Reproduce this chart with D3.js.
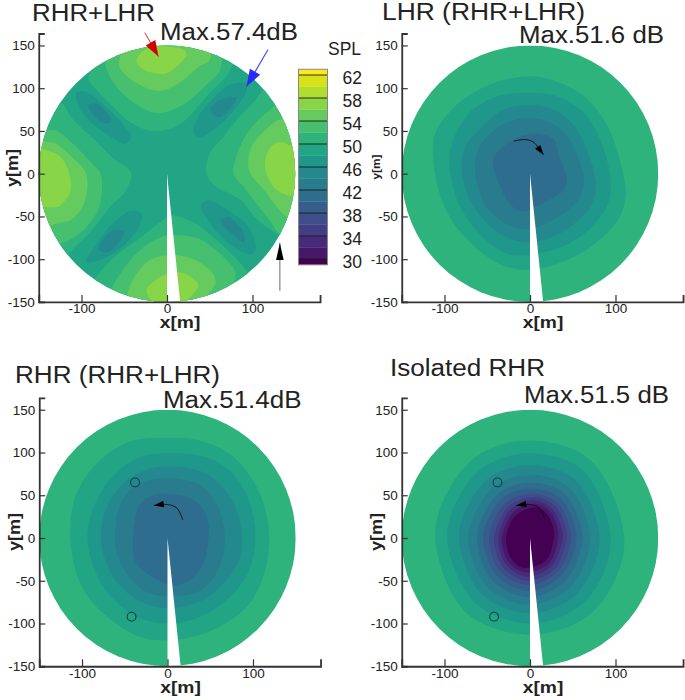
<!DOCTYPE html>
<html>
<head>
<meta charset="utf-8">
<script src="https://cdn.jsdelivr.net/npm/d3@7"></script>
<style>
  body { margin: 0; background: #fff; }
  text { font-family: "Liberation Sans", Arial, sans-serif; fill: #222; }
</style>
</head>
<body>
<svg id="chart" width="685" height="700"></svg>
<script>
// Colour bands: index 0 is below 30 dB, index 17 above 62 dB, 2 dB each
const barEdges = [29, 30, 32, 34, 36, 38, 40, 42, 44, 46, 48, 50, 52, 54, 56, 58, 60, 62, 63]
const barLabels = [62, 58, 54, 50, 46, 42, 38, 34, 30]
const xMajor = [-100, 0, 100]
const xMinor = [-140, -120, -80, -60, -40, -20, 20, 40, 60, 80, 120, 140, 160]
const yMajor = [-150, -100, -50, 0, 50, 100, 150]
const yMinor = [-140, -130, -120, -110, -90, -80, -70, -60, -40, -30, -20, -10, 10, 20, 30, 40, 60, 70, 80, 90, 110, 120, 130, 140, 160]

// wake cut, metres
const wake = [[0, 0], [16, -156], [0, -156]]

// RHR+LHR contours, metres
const topB3 = [[-92, 112], [-82, 98], [-65, 80], [-41, 59], [-18, 50], [-2, 51], [17, 59], [48, 92], [72, 118], [76, 135], [0, 170], [-70, 140]]
const topB2 = [[-72, 132], [-61, 104], [-37, 82], [-18, 72], [-2, 72], [21, 82], [44, 102], [62, 121], [62, 140], [0, 170], [-60, 145]]
const topB1 = [[-56, 127], [-50, 145], [-20, 155], [20, 155], [50, 145], [50, 133], [37, 125], [17, 108], [-2, 98], [-18, 98], [-37, 107], [-50, 117]]
const topCore = [[-35, 135], [-26, 145], [-8, 149], [6, 148], [19, 145], [23, 139], [17, 131], [6, 121], [-2, 117], [-10, 117], [-26, 121], [-35, 129]]

const leftB3 = [[-170, 90], [-125, 84], [-111, 65], [-84, 39], [-63, 18], [-42, 1], [-49, -21], [-65, -37], [-86, -64], [-108, -86], [-118, -95], [-170, -95]]
const leftB2 = [[-170, 52], [-145, 50], [-131, 51], [-110, 35], [-88, 12], [-78, 1], [-76, -16], [-80, -41], [-96, -64], [-115, -78], [-127, -82], [-170, -85]]
const leftB1 = [[-165, 40], [-140, 37], [-131, 36], [-112, 20], [-96, 3], [-93, -14], [-98, -37], [-111, -53], [-127, -58], [-150, -60]]
const leftCore = [[-160, 30], [-137, 26], [-125, 20], [-115, 3], [-113, -20], [-119, -31], [-129, -39], [-160, -30]]

const rightB3 = [[46, 0], [50, 24], [66, 43], [80, 61], [103, 86], [116, 100], [170, 100], [170, -90], [132, -72], [107, -55], [85, -30], [56, -14]]
const rightB2 = [[78, 0], [80, 16], [91, 43], [107, 63], [122, 76], [135, 85], [170, 70], [170, -70], [132, -70], [122, -57], [111, -43], [91, -17]]
const rightB1 = [[95, 10], [99, 32], [111, 47], [124, 59], [135, 64], [165, 50], [165, -55], [140, -50], [130, -41], [115, -21], [99, -2]]
const rightCore = [[115, 16], [122, 32], [132, 37], [142, 34], [165, 20], [165, -25], [138, -24], [126, -17], [119, -6], [115, 4]]

const botB3 = [[-85, -125], [-80, -117], [-59, -95], [-30, -74], [0, -51], [6, -49], [29, -56], [56, -76], [91, -111], [100, -130], [0, -170], [-85, -135]]
const botB2 = [[-65, -135], [-61, -127], [-41, -99], [-22, -82], [0, -72], [11, -72], [37, -76], [60, -92], [80, -115], [78, -128], [70, -160], [-65, -160]]
const botB1 = [[-46, -140], [-45, -136], [-37, -119], [-20, -101], [0, -95], [11, -95], [33, -101], [52, -115], [57, -127], [48, -142], [40, -160], [-40, -160]]
const botCore = [[-24, -137], [-14, -125], [0, -117], [11, -115], [25, -119], [37, -131], [31, -140], [17, -152], [-10, -155]]

const pocketNW = [[-106, 94], [-96, 96], [-76, 82], [-53, 59], [-42, 43], [-49, 35], [-65, 43], [-88, 59], [-102, 76]]
const pocketNWIn = [[-92, 80], [-82, 82], [-65, 61], [-74, 59], [-86, 69]]
const pocketNE = [[31, 49], [37, 67], [52, 86], [74, 104], [93, 106], [93, 98], [83, 80], [68, 63], [48, 47], [37, 42]]
const pocketNEIn = [[51, 76], [62, 86], [81, 89], [74, 76], [60, 66]]
const pocketSW = [[-95, -103], [-86, -88], [-65, -60], [-41, -43], [-30, -47], [-33, -62], [-53, -86], [-76, -100]]
const pocketSWIn = [[-80, -88], [-63, -66], [-50, -68], [-59, -84], [-70, -92]]
const pocketSE = [[40, -37], [48, -31], [72, -43], [95, -62], [104, -86], [99, -94], [76, -84], [52, -60]]
const pocketSEIn = [[63, -56], [72, -51], [89, -68], [90, -80], [78, -72]]

// LHR (RHR+LHR) contours
const lhr10 = [[2, 114], [-45, 105], [-84, 82], [-111, 47], [-113, 16], [-103, -31], [-80, -70], [-33, -107], [0, -112], [33, -105], [72, -85], [103, -54], [112, -27], [107, 8], [91, 55], [64, 90], [33, 107]]
const lhr9 = [[0, 94], [-39, 90], [-72, 70], [-91, 35], [-94, 8], [-82, -38], [-52, -77], [-25, -94], [0, -95], [33, -87], [68, -66], [91, -35], [94, -7], [84, 35], [64, 70], [33, 90]]
const lhr8 = [[0, 80], [-33, 74], [-60, 51], [-77, 28], [-79, -3], [-66, -38], [-41, -66], [-14, -79], [10, -79], [41, -66], [70, -40], [77, -15], [68, 24], [49, 59], [25, 76]]
const lhr7 = [[-2, 65], [-29, 59], [-56, 37], [-64, 16], [-62, -11], [-49, -42], [-21, -62], [2, -64], [33, -50], [56, -31], [63, -9], [56, 20], [41, 47], [21, 61]]
const lhr6 = [[-43, 16], [-33, 30], [-17, 41], [6, 47], [27, 41], [33, 24], [43, -9], [37, -21], [17, -33], [-10, -44], [-21, -38], [-33, -19]]

// RHR (RHR+LHR) contours
const rhr10 = [[-1, 117], [-40, 114], [-79, 91], [-108, 48], [-113, -10], [-98, -61], [-63, -98], [-28, -117], [11, -119], [54, -107], [93, -80], [112, -45], [119, 2], [108, 52], [77, 95], [38, 114]]
const rhr9 = [[-1, 99], [-36, 93], [-71, 64], [-92, 17], [-92, -14], [-75, -57], [-40, -90], [-1, -100], [38, -92], [77, -65], [98, -30], [102, 17], [85, 64], [54, 91]]
const rhr8 = [[-1, 84], [-32, 77], [-59, 56], [-75, 25], [-77, -10], [-61, -49], [-32, -74], [3, -82], [38, -74], [69, -49], [85, -22], [86, 13], [73, 48], [46, 75]]
const rhr7 = [[-1, 70], [-32, 64], [-53, 44], [-61, 13], [-59, -18], [-42, -49], [-20, -65], [11, -68], [42, -59], [61, -33], [67, 2], [59, 37], [38, 62]]
const rhr6 = [[-38, 21], [-32, 40], [-16, 50], [23, 48], [38, 38], [47, 21], [48, 2], [42, -30], [26, -49], [7, -55], [-12, -49], [-36, -30], [-40, -18]]

// Isolated RHR contours
const iso10 = [[1, 114], [71, 91], [110, 3], [98, -52], [64, -94], [0, -113], [-75, -87], [-111, -1], [-96, 55], [-59, 98]]
const iso9 = [[1, 99], [62, 79], [94, 3], [84, -45], [55, -82], [0, -100], [-65, -75], [-97, -1], [-83, 48], [-51, 85]]
const iso8 = [[1, 85], [53, 68], [81, 4], [72, -39], [48, -71], [-1, -88], [-57, -65], [-83, -1], [-71, 41], [-44, 73]]
const iso7 = [[2, 74], [46, 59], [70, 4], [62, -34], [42, -62], [-1, -78], [-50, -57], [-72, -1], [-61, 35], [-38, 63]]
const iso6 = [[2, 65], [40, 52], [61, 5], [54, -29], [37, -54], [-2, -69], [-44, -50], [-62, -2], [-53, 30], [-33, 55]]
const iso5 = [[3, 58], [36, 46], [54, 5], [48, -25], [33, -47], [-2, -62], [-39, -44], [-55, -2], [-47, 26], [-29, 49]]
const iso4 = [[3, 52], [32, 41], [48, 5], [43, -22], [30, -42], [-2, -55], [-35, -39], [-48, -2], [-41, 23], [-26, 43]]
const iso3 = [[4, 48], [29, 38], [43, 6], [38, -19], [27, -38], [-3, -50], [-31, -35], [-42, -2], [-36, 20], [-23, 39]]
const iso2 = [[5, 44], [26, 34], [38, 6], [34, -16], [24, -34], [-4, -45], [-28, -31], [-37, -2], [-32, 18], [-21, 35]]
const iso1 = [[6, 40], [23, 31], [33, 8], [30, -14], [22, -30], [-6, -40], [-25, -28], [-33, -3], [-28, 16], [-19, 31]]
const iso0 = [[6, 36], [20, 28], [28, 9], [26, -10], [19, -26], [-8, -35], [-22, -24], [-28, -3], [-25, 12], [-17, 26]]

// Rotor path arrows and observer circles
const lhrPath = [[-19, 38], [-6, 40], [4, 37], [10, 30], [16, 22]]
const rhrPath = [[18, 21], [11, 35], [1, 39], [-9, 39], [-16, 38]]
const circlePts = [[-38, 65], [-42, -92]]
const redArrow = [[-26, 165], [-10, 137]]
const blueArrow = [[118, 145], [93, 102]]
const blackArrow = [[132, -137], [132, -81]]

const panels = [
  {
    x0: 167, y0: 173.7, base: 10, yLabelSize: 16, yLabelLen: 38, yLabelX: 18, yLabelY: 168,
    layers: [
      [11, topB3], [11, leftB3], [11, rightB3], [11, botB3],
      [12, topB2], [12, leftB2], [12, rightB2], [12, botB2],
      [13, topB1], [13, leftB1], [13, rightB1], [13, botB1],
      [14, topCore], [14, leftCore], [14, rightCore], [14, botCore],
      [9, pocketNW], [9, pocketNE], [9, pocketSW], [9, pocketSE],
      [8, pocketNWIn], [8, pocketNEIn], [8, pocketSWIn], [8, pocketSEIn]
    ],
    titles: [
      { text: 'RHR+LHR', x: 32, y: 21, w: 123 },
      { text: 'Max.57.4dB', x: 160, y: 39.5, w: 138 }
    ]
  },
  {
    x0: 530, y0: 173.7, base: 11, yLabelSize: 10.5, yLabelLen: 25, yLabelX: 380, yLabelY: 167, path: lhrPath,
    layers: [[10, lhr10], [9, lhr9], [8, lhr8], [7, lhr7], [6, lhr6]],
    titles: [
      { text: 'LHR (RHR+LHR)', x: 382, y: 20, w: 203 },
      { text: 'Max.51.6 dB', x: 519, y: 43, w: 145 }
    ]
  },
  {
    x0: 167.5, y0: 538, base: 11, yLabelSize: 16, yLabelLen: 38, yLabelX: 20, yLabelY: 532, path: rhrPath, circles: true,
    layers: [[10, rhr10], [9, rhr9], [8, rhr8], [7, rhr7], [6, rhr6]],
    titles: [
      { text: 'RHR (RHR+LHR)', x: 15, y: 382.7, w: 205 },
      { text: 'Max.51.4dB', x: 163, y: 408.3, w: 138.5 }
    ]
  },
  {
    x0: 530, y0: 538, base: 11, yLabelSize: 16, yLabelLen: 38, yLabelX: 382, yLabelY: 532, path: rhrPath, circles: true,
    layers: [[10, iso10], [9, iso9], [8, iso8], [7, iso7], [6, iso6], [5, iso5], [4, iso4], [3, iso3], [2, iso2], [1, iso1], [0, iso0]],
    titles: [
      { text: 'Isolated RHR', x: 390, y: 376, w: 155 },
      { text: 'Max.51.5 dB', x: 524, y: 403, w: 145 }
    ]
  }
]

const PX_PER_M = 0.855
const bandColor = i => d3.interpolateViridis(i / 17)

const svg = d3.select('#chart')

function drawArrow (g, pts, x, y, color, lineColor, lineWidth, headLen, headHalf, curved) {
  const p = pts.map(d => [x(d[0]), y(d[1])])
  const tip = p[p.length - 1]
  const prev = p[p.length - 2]
  const len = Math.hypot(tip[0] - prev[0], tip[1] - prev[1])
  const ux = (tip[0] - prev[0]) / len
  const uy = (tip[1] - prev[1]) / len
  const bx = tip[0] - ux * headLen
  const by = tip[1] - uy * headLen
  const shaft = d3.line().curve(curved ? d3.curveCatmullRom : d3.curveLinear)
  g.append('path')
    .attr('d', shaft(p))
    .attr('fill', 'none')
    .attr('stroke', lineColor)
    .attr('stroke-width', lineWidth)
  g.append('path')
    .attr('d', d3.line()([tip, [bx - uy * headHalf, by + ux * headHalf], [bx + uy * headHalf, by - ux * headHalf]]) + 'Z')
    .attr('fill', color)
}

panels.forEach((panel, idx) => {
  const x = d3.scaleLinear().domain([-150, 179]).range([panel.x0 - 150 * PX_PER_M, panel.x0 + 179 * PX_PER_M])
  const y = d3.scaleLinear().domain([-150, 164]).range([panel.y0 + 150 * PX_PER_M, panel.y0 - 164 * PX_PER_M])
  const g = svg.append('g')

  g.append('clipPath')
    .attr('id', `disc-${idx}`)
    .append('circle')
    .attr('cx', x(0))
    .attr('cy', y(0))
    .attr('r', x(150) - x(0))

  const field = g.append('g').attr('clip-path', `url(#disc-${idx})`)
  field.append('rect')
    .attr('x', x(-150))
    .attr('y', y(150))
    .attr('width', x(150) - x(-150))
    .attr('height', y(-150) - y(150))
    .attr('fill', bandColor(panel.base))

  const contour = d3.line()
    .x(d => x(d[0]))
    .y(d => y(d[1]))
    .curve(d3.curveCatmullRomClosed.alpha(0.5))

  field.selectAll('path.band')
    .data(panel.layers)
    .join('path')
    .attr('class', 'band')
    .attr('d', d => contour(d[1]))
    .attr('fill', d => bandColor(d[0]))

  field.append('path')
    .attr('d', d3.line().x(d => x(d[0])).y(d => y(d[1]))(wake) + 'Z')
    .attr('fill', '#fff')

  // Axes
  const axisX = g.append('g').attr('transform', `translate(0,${y(-150)})`)
  axisX.call(d3.axisBottom(x).tickValues(xMinor).tickSize(-3.5).tickFormat(''))
  axisX.call(d3.axisBottom(x).tickValues(xMajor).tickSize(-7).tickFormat(d => String(d)))
  const axisY = g.append('g').attr('transform', `translate(${x(-150)},0)`)
  axisY.call(d3.axisLeft(y).tickValues(yMinor).tickSize(-3.5).tickFormat(''))
  axisY.call(d3.axisLeft(y).tickValues(yMajor).tickSize(-6).tickFormat(d => String(d)))
  g.selectAll('.domain').attr('stroke', '#333').attr('stroke-width', 1.8)
  g.selectAll('.tick line').attr('stroke', '#333').attr('stroke-width', 1.2)
  axisX.selectAll('text').attr('font-size', 13.5).attr('y', 11.3).attr('dy', 0).style('font-family', '"Liberation Sans"').attr('fill', '#222')
  axisY.selectAll('text').attr('font-size', 13.5).attr('x', -4).style('font-family', '"Liberation Sans"').attr('fill', '#222')

  g.append('text')
    .attr('x', x(0) + 13)
    .attr('y', y(-150) + 26.5)
    .attr('text-anchor', 'middle')
    .attr('font-size', 16)
    .attr('font-weight', 'bold')
    .attr('textLength', 40.6)
    .attr('lengthAdjust', 'spacingAndGlyphs')
    .text('x[m]')

  g.append('text')
    .attr('transform', `translate(${panel.yLabelX},${panel.yLabelY}) rotate(-90)`)
    .attr('text-anchor', 'middle')
    .attr('font-size', panel.yLabelSize)
    .attr('font-weight', 'bold')
    .attr('textLength', panel.yLabelLen)
    .attr('lengthAdjust', 'spacingAndGlyphs')
    .text('y[m]')

  g.selectAll('text.title')
    .data(panel.titles)
    .join('text')
    .attr('class', 'title')
    .attr('x', d => d.x)
    .attr('y', d => d.y)
    .attr('font-size', 23.5)
    .attr('textLength', d => d.w)
    .attr('lengthAdjust', 'spacingAndGlyphs')
    .text(d => d.text)

  if (panel.path) {
    drawArrow(g, panel.path, x, y, '#000', '#111', 0.9, 10, 3.3, true)
  }

  if (panel.circles) {
    g.selectAll('circle.obs')
      .data(circlePts)
      .join('circle')
      .attr('class', 'obs')
      .attr('cx', d => x(d[0]))
      .attr('cy', d => y(d[1]))
      .attr('r', 4.4)
      .attr('fill', 'none')
      .attr('stroke', '#14403f')
      .attr('stroke-width', 1.1)
  }

  if (idx === 0) {
    drawArrow(g, redArrow, x, y, '#d40000', '#e03030', 1, 16, 5.5, false)
    drawArrow(g, blueArrow, x, y, '#2a2aff', '#3a3aff', 1.1, 17, 6, false)
    drawArrow(g, blackArrow, x, y, '#000', '#777', 1.1, 17, 3.8, false)
  }
})

// Colour bar
const barY = d3.scaleLinear().domain([30, 62]).range([259, 75])
const bar = svg.append('g')
bar.selectAll('rect')
  .data(barEdges.slice(0, -1))
  .join('rect')
  .attr('x', 298.5)
  .attr('width', 29)
  .attr('y', (d, i) => barY(barEdges[i + 1]))
  .attr('height', (d, i) => barY(d) - barY(barEdges[i + 1]) + 0.3)
  .attr('fill', (d, i) => bandColor(i))
bar.selectAll('line')
  .data(barLabels)
  .join('line')
  .attr('x1', 298.5)
  .attr('x2', 327.5)
  .attr('y1', d => barY(d))
  .attr('y2', d => barY(d))
  .attr('stroke', '#1a1a1a')
  .attr('stroke-width', 0.9)
bar.append('rect')
  .attr('x', 298.5)
  .attr('y', barY(63))
  .attr('width', 29)
  .attr('height', barY(29) - barY(63))
  .attr('fill', 'none')
  .attr('stroke', '#888')
bar.selectAll('text.lab')
  .data(barLabels)
  .join('text')
  .attr('class', 'lab')
  .attr('x', 342.5)
  .attr('y', d => barY(d) + 9)
  .attr('font-size', 17.5)
  .text(d => d)
bar.append('text')
  .attr('x', 328)
  .attr('y', 55)
  .attr('font-size', 17.5)
  .text('SPL')
</script>
</body>
</html>
